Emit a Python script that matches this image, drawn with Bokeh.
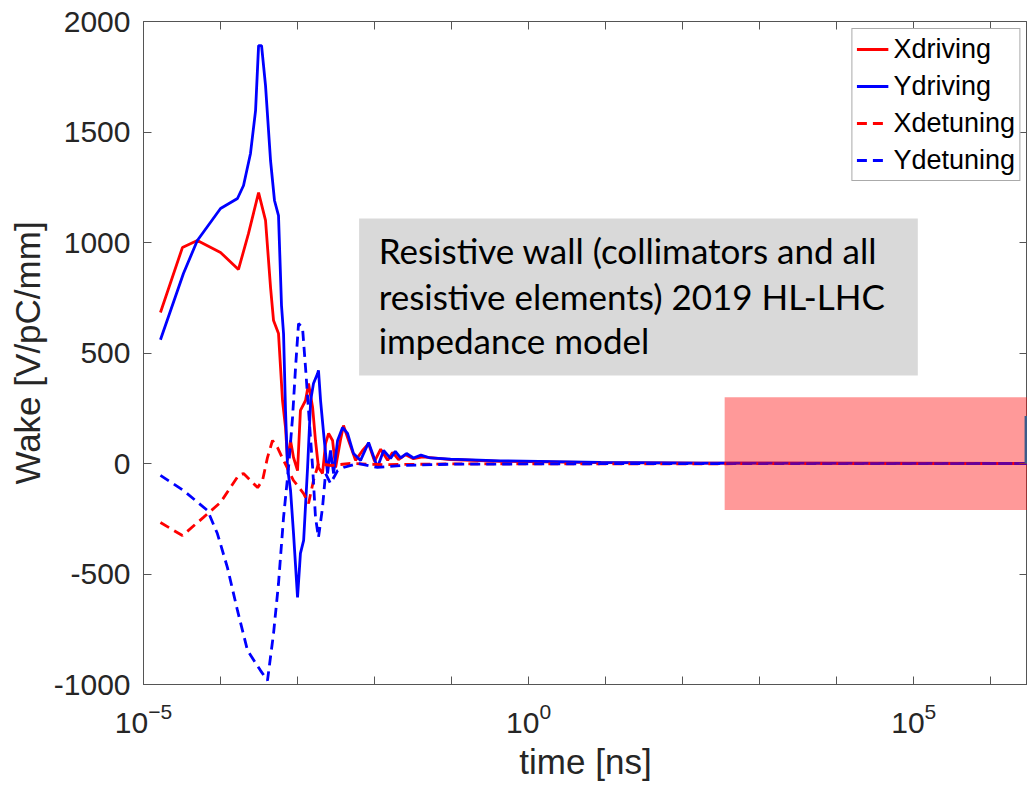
from bokeh.plotting import figure
from bokeh.models import (Range1d, LogAxis, LinearAxis, FixedTicker,
                          CustomJSTickFormatter, BoxAnnotation, Label, Legend, LegendItem)
from bokeh.embed import file_html
from bokeh.resources import INLINE

# ---------------- data (time in ns, wake in V/pC/mm) ----------------
t_xdriving = [1.66e-5, 3.2e-5, 5.0e-5, 1.0e-4, 1.71e-4, 2.31e-4, 3.12e-4, 3.84e-4, 4.46e-4, 4.88e-4,
              5.66e-4, 6.38e-4, 6.98e-4, 7.41e-4, 8.11e-4, 8.87e-4, 1.0e-3, 1.09e-3, 1.27e-3, 1.39e-3,
              1.57e-3, 1.71e-3, 1.87e-3, 2.11e-3, 2.31e-3, 2.53e-3, 2.85e-3, 3.12e-3, 3.6e-3, 3.95e-3,
              4.6e-3, 5.66e-3, 6.98e-3, 8.36e-3, 1.0e-2, 1.2e-2, 1.48e-2, 1.71e-2, 2.05e-2, 2.53e-2,
              3.2e-2, 4.2e-2, 9.7e-2, 0.43, 8.6, 171, 3.0e6]
y_xdriving = [683, 977, 1009, 955, 878, 1041, 1226, 1100, 797, 647,
              588, 285, 163, 14, 104, 27, -32, 240, 285, 362,
              253, 104, -18, -45, 90, 136, 104, -18, 104, 172,
              104, 14, 59, 90, 10, 65, 15, 50, 18, 40,
              22, 30, 18, 10, 4, 2, 0]

t_ydriving = [1.66e-5, 3.3e-5, 5.0e-5, 1.0e-4, 1.66e-4, 1.99e-4, 2.45e-4, 2.85e-4, 3.12e-4, 3.41e-4,
              3.84e-4, 4.46e-4, 5.02e-4, 5.66e-4, 6.19e-4, 6.58e-4, 6.98e-4, 7.41e-4, 8.11e-4, 8.87e-4,
              1.0e-3, 1.09e-3, 1.2e-3, 1.35e-3, 1.48e-3, 1.61e-3, 1.82e-3, 1.87e-3, 1.99e-3, 2.18e-3,
              2.45e-3, 2.68e-3, 2.94e-3, 3.31e-3, 3.84e-3, 4.46e-3, 5.33e-3, 6.58e-3, 8.36e-3, 1.09e-2,
              1.31e-2, 1.61e-2, 1.86e-2, 2.18e-2, 2.6e-2, 3.2e-2, 4.0e-2, 5.3e-2, 9.7e-2, 0.43,
              8.6, 171, 3.0e6]
y_ydriving = [560, 860, 1009, 1154, 1199, 1258, 1403, 1597, 1891, 1891,
              1710, 1371, 1190, 1122, 715, 588, 240, -18, -122, -317,
              -606, -407, -348, -18, 285, 362, 407, 421, 285, 136,
              -45, 59, -45, 104, 163, 136, 45, 14, 95, -18,
              59, 23, 55, 25, 45, 25, 38, 25, 20, 12,
              5, 2, 0]

t_xdetuning = [1.66e-5, 3.2e-5, 6.0e-5, 1.0e-4, 1.71e-4, 1.99e-4, 3.03e-4, 3.51e-4, 4.07e-4, 4.73e-4,
               5.5e-4, 6.58e-4, 8.87e-4, 1.2e-3, 1.39e-3, 1.61e-3, 1.87e-3, 2.68e-3, 4.88e-3, 1.31e-2,
               9.7e-2, 3.0e6]
y_xdetuning = [-267, -326, -244, -176, -54, -45, -109, -77, 27, 104,
               72, 14, -77, -136, -181, -77, 0, -9, 0, -5,
               -2, 0]

t_ydetuning = [1.66e-5, 3.3e-5, 6.8e-5, 9.1e-5, 1.23e-4, 1.66e-4, 2.24e-4, 3.31e-4, 4.07e-4, 4.88e-4,
               5.66e-4, 6.58e-4, 7.64e-4, 8.61e-4, 9.42e-4, 1.03e-3, 1.16e-3, 1.27e-3, 1.39e-3, 1.57e-3,
               1.71e-3, 1.87e-3, 2.11e-3, 2.31e-3, 2.68e-3, 3.31e-3, 3.95e-3, 6.01e-3, 1.09e-2, 2.18e-2,
               9.7e-2, 8.6, 3.0e6]
y_ydetuning = [-54, -122, -213, -317, -471, -665, -846, -937, -982, -769,
               -543, -244, -18, 208, 434, 633, 615, 434, 240, -18,
               -244, -335, -199, -45, -90, -32, -18, 0, -18, -9,
               -3, -1, 0]

series_names = ["Xdriving", "Ydriving", "Xdetuning", "Ydetuning"]

x_major_ticks = [1e-5, 1e0, 1e5]
x_minor_ticks = [1e-4, 1e-3, 1e-2, 1e-1, 1e1, 1e2, 1e3, 1e4, 1e6]
x_all_ticks = [1e-5, 1e-4, 1e-3, 1e-2, 1e-1, 1e0, 1e1, 1e2, 1e3, 1e4, 1e5, 1e6]
y_ticks = [-1000, -500, 0, 500, 1000, 1500, 2000]

note_lines = ["Resistive wall (collimators and all",
              "resistive elements) 2019 HL-LHC",
              "impedance model"]

# ---------------- figure ----------------
AX = "#555555"
TXT = "#262626"
X_END = 3.0e6
Y_TOP = 2000

p = figure(width=1027, height=785, x_axis_type="log",
           x_range=Range1d(1e-5, X_END), y_range=Range1d(-1000, Y_TOP),
           output_backend="svg", toolbar_location=None,
           min_border_left=143, min_border_right=0, min_border_top=21, min_border_bottom=101,
           background_fill_color="white", border_fill_color="white")
p.xgrid.visible = False
p.ygrid.visible = False
p.outline_line_color = AX
p.outline_line_width = 1

xa = p.xaxis[0]
xa.ticker = FixedTicker(ticks=x_major_ticks, minor_ticks=x_minor_ticks)
ya = p.yaxis[0]
ya.ticker = FixedTicker(ticks=y_ticks)
ya.formatter = CustomJSTickFormatter(code="return tick.toFixed(0);")

for ax in (xa, ya):
    ax.axis_line_color = AX
    ax.major_tick_line_color = AX
    ax.minor_tick_line_color = AX
    ax.major_tick_in = 8
    ax.major_tick_out = 0
    ax.minor_tick_in = 8
    ax.minor_tick_out = 0
    ax.major_label_text_font = "Liberation Sans"
    ax.major_label_text_font_size = "30px"
    ax.major_label_text_color = TXT
    ax.axis_label_text_font = "Liberation Sans"
    ax.axis_label_text_font_size = "35px"
    ax.axis_label_text_font_style = "normal"
    ax.axis_label_text_color = TXT
ya.minor_tick_in = 0
ya.axis_label = "Wake [V/pC/mm]"
ya.major_label_standoff = 13
ya.axis_label_standoff = 4
xa.axis_label = "time [ns]"
xa.major_label_standoff = 18
xa.axis_label_standoff = 6

top = LogAxis(ticker=FixedTicker(ticks=x_all_ticks), fixed_location=Y_TOP)
right = LinearAxis(ticker=FixedTicker(ticks=y_ticks), fixed_location=X_END)
for ax in (top, right):
    ax.axis_line_color = AX
    ax.major_tick_line_color = AX
    ax.minor_tick_line_color = None
    ax.major_tick_in = 8
    ax.major_tick_out = 0
    ax.minor_tick_in = 0
    ax.minor_tick_out = 0
    ax.major_label_text_font_size = "1px"
    ax.major_label_text_alpha = 0
    ax.major_label_standoff = 0
p.add_layout(top, "above")
p.add_layout(right, "right")

# ---------------- lines ----------------
r1 = p.line(t_xdriving, y_xdriving, line_color="#ff0000", line_width=2.8)
r2 = p.line(t_ydriving, y_ydriving, line_color="#0000ff", line_width=2.8)
r3 = p.line(t_xdetuning, y_xdetuning, line_color="#ff0000", line_width=2.8, line_dash="10 6")
r4 = p.line(t_ydetuning, y_ydetuning, line_color="#0000ff", line_width=2.8, line_dash="10 6")

# ---------------- annotations ----------------
p.add_layout(BoxAnnotation(left=6.3e-3, right=1.13e5, bottom=398, top=1109,
                           fill_color="#d9d9d9", fill_alpha=1.0, line_color=None))
for txt, yy in zip(note_lines, [964, 756, 557]):
    p.add_layout(Label(x=0.0113, y=yy, text=txt, text_font="Lato", text_font_size="35px",
                       text_color="black", text_baseline="middle", text_align="left"))
p.add_layout(BoxAnnotation(left=351, right=1e7, bottom=-210, top=300,
                           fill_color="#ff0000", fill_alpha=0.4, line_color=None))
p.add_layout(BoxAnnotation(left=2.75e6, right=1e7, bottom=0, top=215,
                           fill_color="#3b5b8a", fill_alpha=1.0, line_color=None))

legend = Legend(items=[LegendItem(label=n, renderers=[r]) for n, r in zip(series_names, [r1, r2, r3, r4])],
                location="top_right", margin=7, padding=4, spacing=5,
                label_text_font="Liberation Sans", label_text_font_size="27px", label_text_color="black",
                label_height=32, glyph_height=32, glyph_width=32, label_standoff=5,
                border_line_color=AX, border_line_width=1, background_fill_color="white",
                background_fill_alpha=1.0)
p.add_layout(legend)

open("out.html", "w").write(file_html(p, INLINE))
